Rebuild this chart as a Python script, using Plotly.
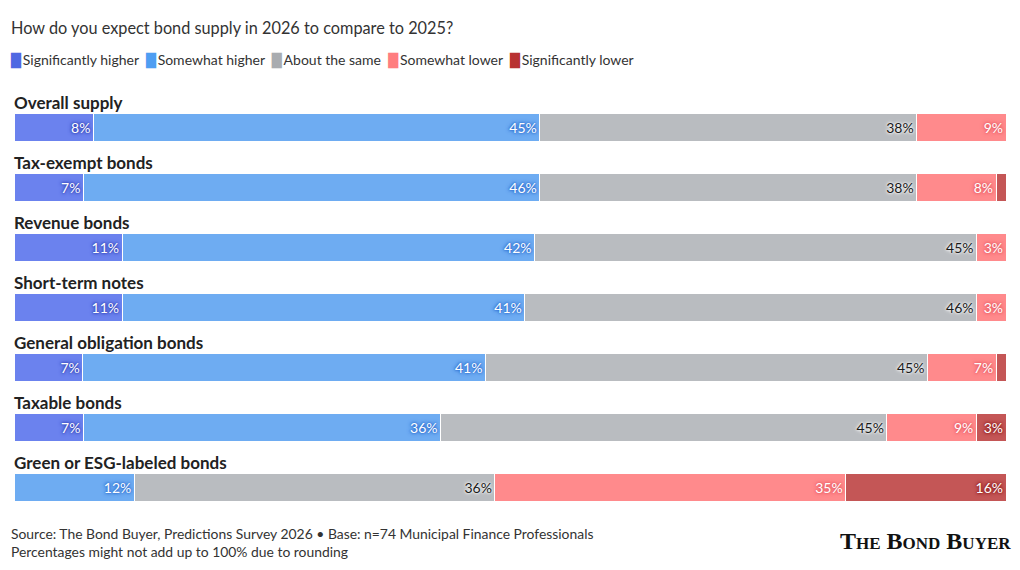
import plotly.graph_objects as go

categories = [
    "Overall supply",
    "Tax-exempt bonds",
    "Revenue bonds",
    "Short-term notes",
    "General obligation bonds",
    "Taxable bonds",
    "Green or ESG-labeled bonds",
]
sig_higher = [8, 7, 11, 11, 7, 7, 0]
some_higher = [45, 46, 42, 41, 41, 36, 12]
about_same = [38, 38, 45, 46, 45, 45, 36]
some_lower = [9, 8, 3, 3, 7, 9, 35]
sig_lower = [0, 1, 0, 0, 1, 3, 16]

# name, values, bar colour, legend colour, label colour, label halo
series = [
    ("Significantly higher", sig_higher, "#6b82ee", "#5068e2", "white", "rgba(45,60,180,0.8)"),
    ("Somewhat higher", some_higher, "#6eacf2", "#4e9ef2", "white", "rgba(35,100,205,0.8)"),
    ("About the same", about_same, "#b9bcc0", "#a9acb0", "#1a1a1a", "rgba(255,255,255,0.8)"),
    ("Somewhat lower", some_lower, "#ff8a8c", "#ff7d80", "white", "rgba(230,85,95,0.8)"),
    ("Significantly lower", sig_lower, "#c45656", "#b83232", "white", "rgba(140,20,20,0.8)"),
]

fig = go.Figure()
for name, vals, color, lcol, tcol, shadow in series:
    labels = [f"{v}%" if v >= 3 else "" for v in vals]
    fig.add_trace(go.Bar(
        name=name,
        y=categories,
        x=vals,
        orientation="h",
        marker=dict(color=color, line=dict(color="white", width=1)),
        text=labels,
        textposition="inside",
        insidetextanchor="end",
        textfont=dict(color=tcol, size=14, family="Lato",
                      shadow=f"0px 0px 2px {shadow}, 0px 0px 3px {shadow}, 0px 0px 4px {shadow}"),
        hoverinfo="skip",
        showlegend=False,
    ))

# legend drawn as one line of text
legend_text = "\u00a0\u00a0".join(
    f"<span style='color:{lcol};font-family:DejaVu Sans;font-size:13px'>\u2588</span>\u2009{name}"
    for name, _, _, lcol, _, _ in series
)
fig.add_annotation(
    x=0, xref="paper", xanchor="left", xshift=-6,
    y=1, yref="paper", yanchor="middle", yshift=37,
    text=legend_text, showarrow=False,
    font=dict(family="Lato", size=14, color="#333"),
)

for c in categories:
    fig.add_annotation(
        x=0, xref="paper", xanchor="left", xshift=-2,
        y=c, yref="y", yanchor="middle", yshift=25,
        text=c, showarrow=False,
        font=dict(family="Lato", size=17, color="#222", weight="bold"),
    )

fig.add_annotation(
    x=0, xref="paper", xanchor="left", xshift=-5,
    y=0, yref="paper", yanchor="top", yshift=-5, align="left",
    text="Source: The Bond Buyer, Predictions Survey 2026 \u2022 Base: n=74 Municipal Finance Professionals<br>Percentages might not add up to 100% due to rounding",
    showarrow=False,
    font=dict(family="Lato", size=13.9, color="#333"),
)
fig.add_annotation(
    x=1, xref="paper", xanchor="right", xshift=7,
    y=0, yref="paper", yanchor="middle", yshift=-23,
    text="<b>The Bond Buyer</b>", showarrow=False,
    font=dict(family="Liberation Serif", size=24, color="#111", variant="small-caps"),
)

fig.update_layout(
    width=1020, height=570,
    barmode="stack", barnorm="percent", bargap=0.534,
    margin=dict(l=14, r=14, t=97, b=52),
    paper_bgcolor="white", plot_bgcolor="white",
    font=dict(family="Lato", color="#333"),
    title=dict(
        text="How do you expect bond supply in 2026 to compare to 2025?",
        x=11 / 1020, xanchor="left", y=1 - 28 / 570, yanchor="middle",
        font=dict(family="Lato", size=16.3, color="#333"),
    ),
    showlegend=False,
    xaxis=dict(visible=False, range=[0, 100], fixedrange=True),
    yaxis=dict(visible=False, categoryorder="array", categoryarray=categories,
               range=[6.5, -0.5], fixedrange=True),
    uniformtext=dict(minsize=8, mode="show"),
)

fig.write_html("out.html", config={"displayModeBar": False},
               post_script="document.body.style.margin='0';")
